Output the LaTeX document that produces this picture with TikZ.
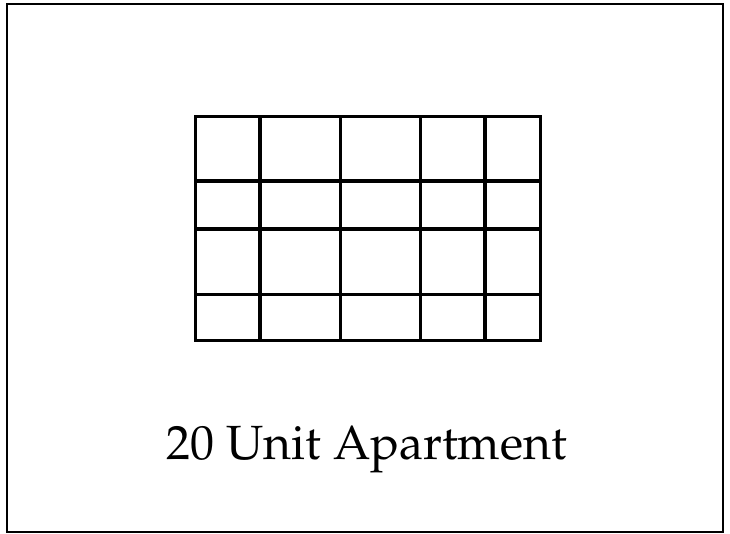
\documentclass[tikz,border=0pt]{standalone}
\usepackage[T1]{fontenc}
\usepackage{mathpazo}
\tikzset{unitwall/.style={line width=3.2pt}}
\begin{document}
\begin{tikzpicture}[x=1pt,y=-1pt]
\useasboundingbox (0,0) rectangle (730,534);
\draw[line width=2pt] (6.5,4.5) rectangle (722.8,531.8);
% apartment block
\draw[unitwall] (195.5,116.5) rectangle (540.5,340.5);
\foreach \x in {260,340.5,420.5,485}
  \draw[unitwall] (\x,116.5) -- (\x,340.5);
\foreach \y in {181,229,294.5}
  \draw[unitwall] (195.5,\y) -- (540.5,\y);
\node (label) [anchor=base] at (366.5,459.5) {\fontsize{48}{54}\selectfont 20 Unit Apartment};
\end{tikzpicture}
\end{document}
